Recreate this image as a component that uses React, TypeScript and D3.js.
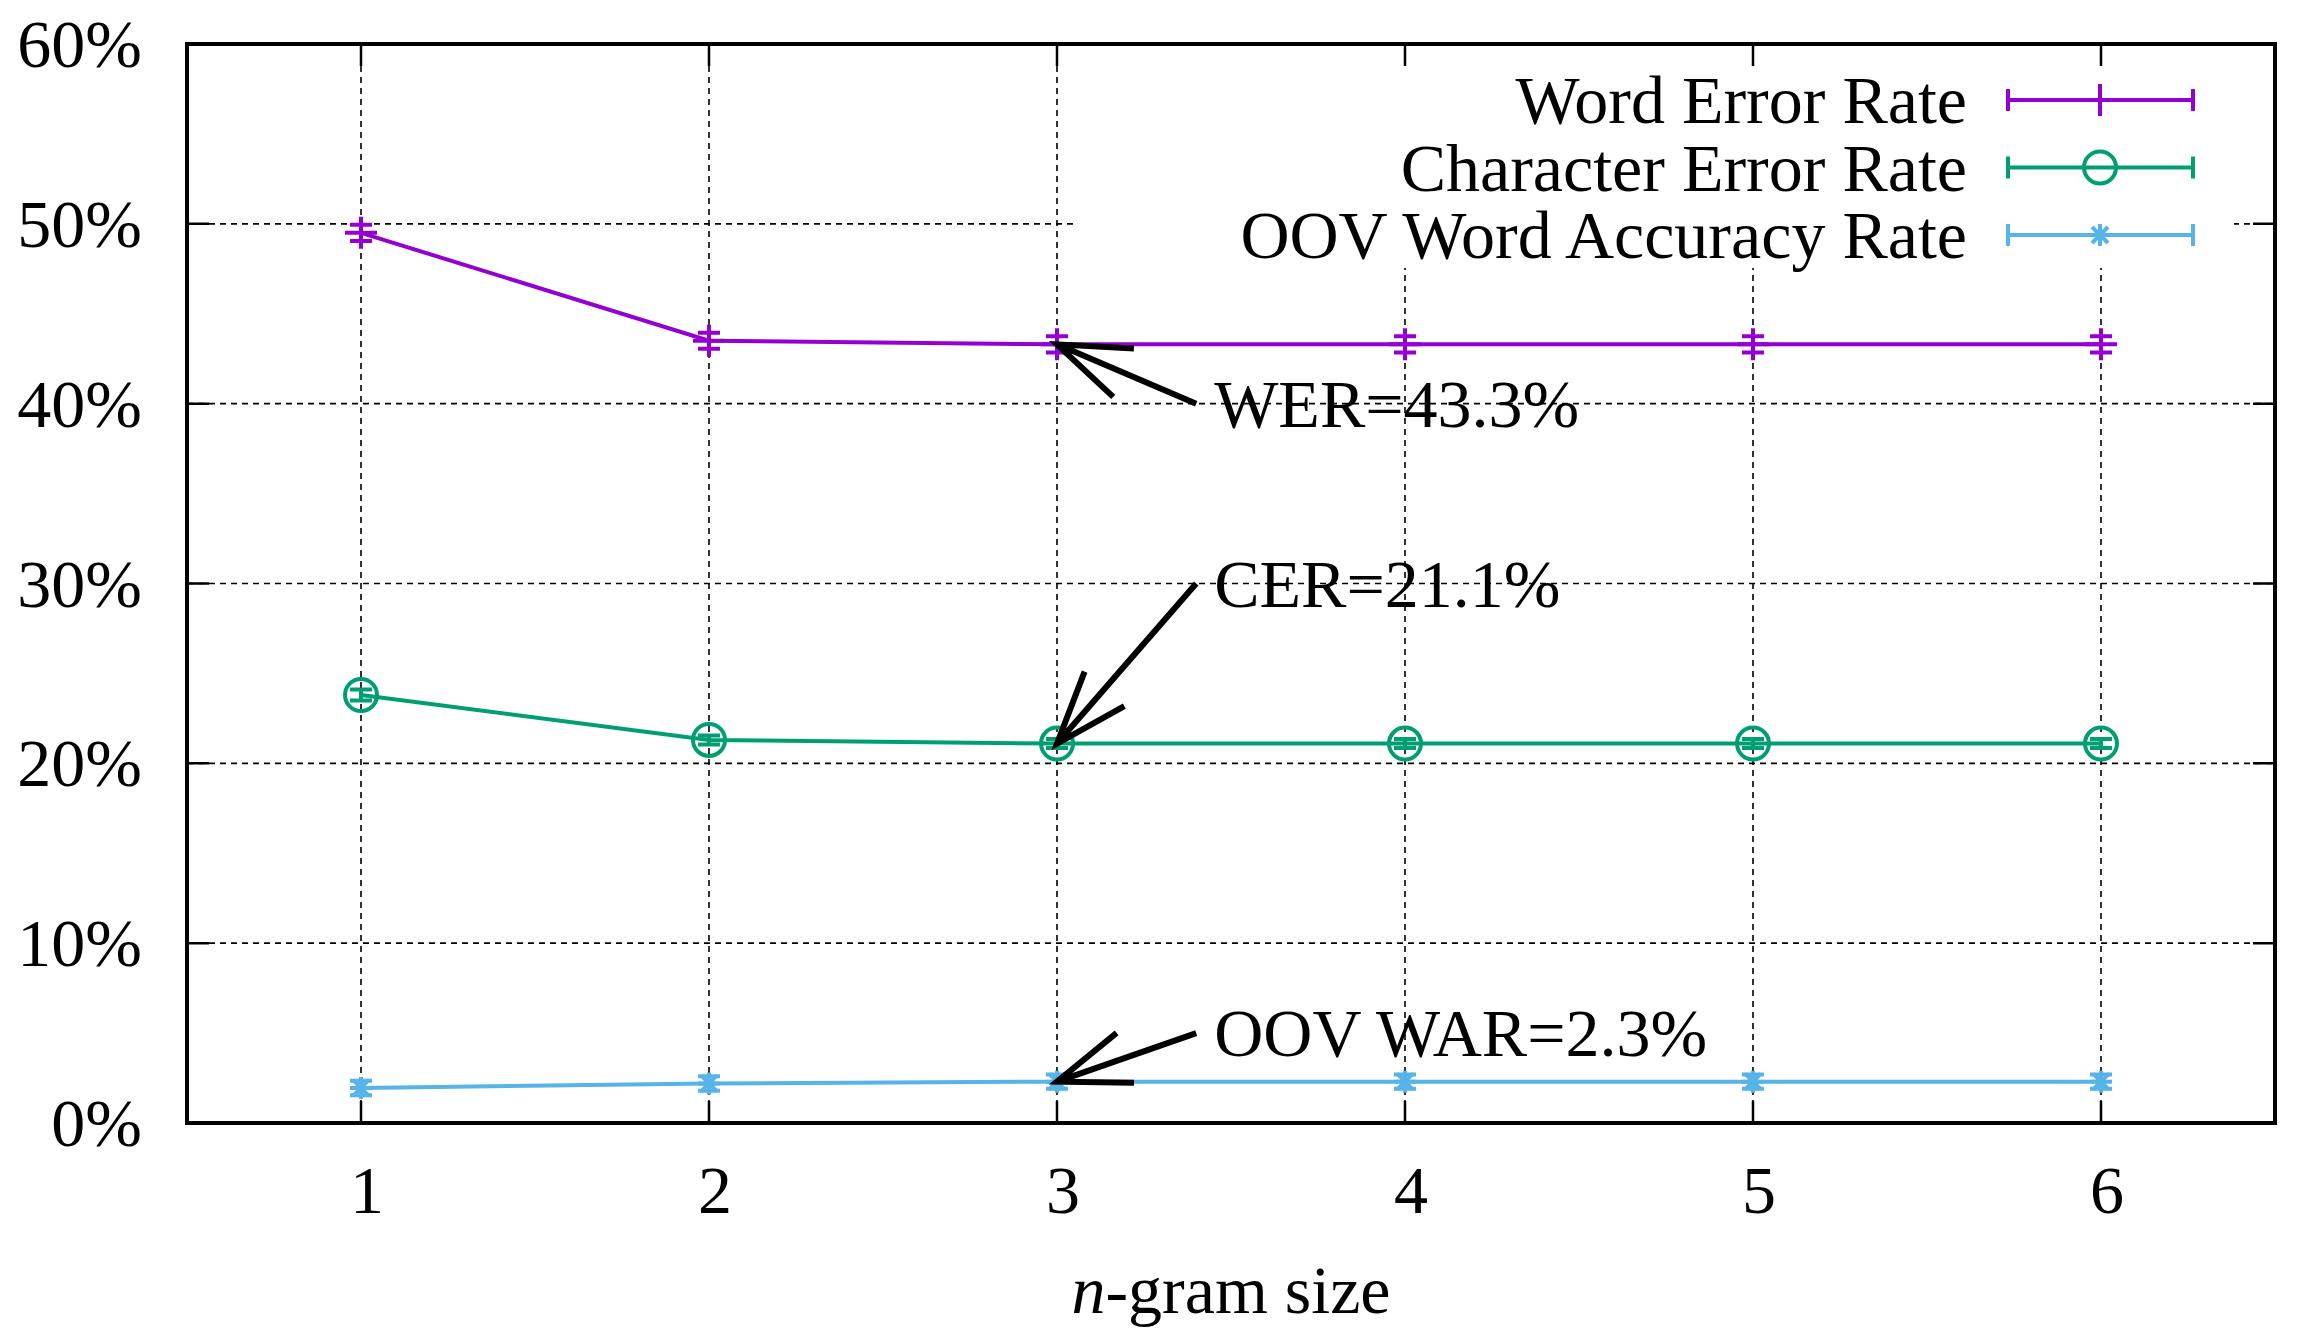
import { useEffect, useRef } from "react";
import * as d3 from "d3";

// ── Data ──────────────────────────────────────────────────────────────────────

const NGRAM = [1, 2, 3, 4, 5, 6];
const WER = [49.5, 43.5, 43.3, 43.3, 43.3, 43.3];
const WER_ERR = [0.45, 0.45, 0.45, 0.45, 0.45, 0.45];
const CER = [23.8, 21.3, 21.1, 21.1, 21.1, 21.1];
const CER_ERR = [0.3, 0.25, 0.25, 0.25, 0.25, 0.25];
const OOV = [1.95, 2.2, 2.3, 2.3, 2.3, 2.3];
const OOV_ERR = [0.4, 0.4, 0.4, 0.4, 0.4, 0.4];

const SERIES_NAMES = ["Word Error Rate", "Character Error Rate", "OOV Word Accuracy Rate"];
const Y_TICKS = [0, 10, 20, 30, 40, 50, 60];

const NOTE_TEXT = ["WER=43.3%", "CER=21.1%", "OOV WAR=2.3%"];
const NOTE_AT_X = 3;
const NOTE_AT_Y = [43.3, 21.1, 2.3];
const NOTE_FROM_X = 3.4;
const NOTE_FROM_Y = [40, 30, 5];

// ── Tokens ────────────────────────────────────────────────────────────────────

const PURPLE = "#9400D3";
const GREEN = "#009E73";
const BLUE = "#56B4E9";
const FONT = "'Liberation Serif', 'Times New Roman', serif";
const FS = 68;

type Marker = "plus" | "circle" | "star";

export default function App() {
  const svgRef = useRef<SVGSVGElement>(null);

  useEffect(() => {
    if (!svgRef.current) return;
    const W = 2309, H = 1344;
    const m = { left: 187, right: 2275, top: 44, bottom: 1123 };

    const svg = d3.select(svgRef.current);
    svg.selectAll("*").remove();
    svg.attr("width", W).attr("height", H).attr("viewBox", `0 0 ${W} ${H}`);

    const x = d3.scaleLinear().domain([0.5, 6.5]).range([m.left, m.right]);
    const y = d3.scaleLinear().domain([0, 60]).range([m.bottom, m.top]);

    svg.append("rect").attr("width", W).attr("height", H).attr("fill", "#fff");

    // Grid
    const grid = svg.append("g")
      .attr("stroke", "#000")
      .attr("stroke-width", 1.6)
      .attr("stroke-dasharray", "6,5");
    grid.selectAll(".gx").data(NGRAM).join("line")
      .attr("x1", d => x(d)).attr("x2", d => x(d))
      .attr("y1", m.top).attr("y2", m.bottom);
    grid.selectAll(".gy").data(Y_TICKS.slice(1, -1)).join("line")
      .attr("x1", m.left).attr("x2", m.right)
      .attr("y1", d => y(d)).attr("y2", d => y(d));

    // Legend background hides the grid behind the key
    const keyRight = 1967;
    svg.append("rect")
      .attr("x", 1073).attr("y", m.top + 2)
      .attr("width", 2234 - 1073).attr("height", 268 - m.top - 2)
      .attr("fill", "#fff");

    const series = [
      { name: SERIES_NAMES[0], values: WER, err: WER_ERR, color: PURPLE, marker: "plus" as Marker },
      { name: SERIES_NAMES[1], values: CER, err: CER_ERR, color: GREEN, marker: "circle" as Marker },
      { name: SERIES_NAMES[2], values: OOV, err: OOV_ERR, color: BLUE, marker: "star" as Marker },
    ];

    const drawMarker = (g: d3.Selection<SVGGElement, unknown, null, undefined>,
      kind: Marker, cx: number, cy: number, color: string) => {
      if (kind === "plus") {
        g.append("path")
          .attr("d", `M${cx - 16},${cy}H${cx + 16}M${cx},${cy - 16}V${cy + 16}`)
          .attr("stroke", color).attr("stroke-width", 4).attr("fill", "none");
      } else if (kind === "circle") {
        g.append("circle").attr("cx", cx).attr("cy", cy).attr("r", 16)
          .attr("stroke", color).attr("stroke-width", 4).attr("fill", "none");
      } else {
        const r = 11, d = 8;
        g.append("path")
          .attr("d", `M${cx - r},${cy}H${cx + r}M${cx},${cy - r}V${cy + r}` +
            `M${cx - d},${cy - d}L${cx + d},${cy + d}M${cx - d},${cy + d}L${cx + d},${cy - d}`)
          .attr("stroke", color).attr("stroke-width", 4).attr("fill", "none");
      }
    };

    const line = d3.line<number>().x((_, i) => x(NGRAM[i])).y(d => y(d));

    series.forEach(s => {
      const g = svg.append("g");
      g.append("path")
        .attr("d", line(s.values))
        .attr("fill", "none")
        .attr("stroke", s.color)
        .attr("stroke-width", 4);

      s.values.forEach((v, i) => {
        const cx = x(NGRAM[i]);
        const lo = y(v - s.err[i]), hi = y(v + s.err[i]);
        g.append("path")
          .attr("d", `M${cx},${lo}V${hi}M${cx - 11},${lo}H${cx + 11}M${cx - 11},${hi}H${cx + 11}`)
          .attr("stroke", s.color).attr("stroke-width", 4).attr("fill", "none");
        drawMarker(g, s.marker, cx, y(v), s.color);
      });
    });

    // Legend
    series.forEach((s, i) => {
      const base = 123 + i * 67.5;
      const ly = base - 23;
      const g = svg.append("g");
      g.append("text")
        .attr("x", keyRight).attr("y", base)
        .attr("text-anchor", "end")
        .attr("font-family", FONT).attr("font-size", FS)
        .attr("fill", "#000")
        .text(s.name);
      g.append("path")
        .attr("d", `M2008,${ly}H2193M2008,${ly - 11}V${ly + 11}M2193,${ly - 11}V${ly + 11}`)
        .attr("stroke", s.color).attr("stroke-width", 4).attr("fill", "none");
      drawMarker(g, s.marker, 2100, ly, s.color);
    });

    // Annotations
    const notes = svg.append("g");
    NOTE_TEXT.forEach((t, i) => {
      const x0 = x(NOTE_FROM_X), y0 = y(NOTE_FROM_Y[i]);
      const x1 = x(NOTE_AT_X), y1 = y(NOTE_AT_Y[i]);
      const ang = Math.atan2(y0 - y1, x0 - x1);
      const len = 77, spread = (20 * Math.PI) / 180;
      const h1 = [x1 + len * Math.cos(ang - spread), y1 + len * Math.sin(ang - spread)];
      const h2 = [x1 + len * Math.cos(ang + spread), y1 + len * Math.sin(ang + spread)];
      notes.append("path")
        .attr("d", `M${x0},${y0}L${x1},${y1}M${h1[0]},${h1[1]}L${x1},${y1}L${h2[0]},${h2[1]}`)
        .attr("stroke", "#000").attr("stroke-width", 6).attr("fill", "none");
      notes.append("text")
        .attr("x", x0 + 18).attr("y", y0 + 23)
        .attr("font-family", FONT).attr("font-size", FS)
        .attr("fill", "#000")
        .text(t);
    });

    // Frame and mirrored ticks
    const axes = svg.append("g").attr("stroke", "#000").attr("fill", "none");
    axes.append("rect")
      .attr("x", m.left).attr("y", m.top)
      .attr("width", m.right - m.left).attr("height", m.bottom - m.top)
      .attr("stroke-width", 4);
    const TL = 22;
    NGRAM.forEach(d => {
      axes.append("path")
        .attr("d", `M${x(d)},${m.bottom}V${m.bottom - TL}M${x(d)},${m.top}V${m.top + TL}`)
        .attr("stroke-width", 2.5);
    });
    Y_TICKS.slice(1, -1).forEach(d => {
      axes.append("path")
        .attr("d", `M${m.left},${y(d)}H${m.left + TL}M${m.right},${y(d)}H${m.right - TL}`)
        .attr("stroke-width", 2.5);
    });

    // Tick labels
    svg.append("g").selectAll("text").data(Y_TICKS).join("text")
      .attr("x", 142).attr("y", d => y(d) + 23)
      .attr("text-anchor", "end")
      .attr("font-family", FONT).attr("font-size", FS)
      .text(d => `${d}%`);

    svg.append("g").selectAll("text").data(NGRAM).join("text")
      .attr("x", d => x(d) + 6).attr("y", 1213)
      .attr("text-anchor", "middle")
      .attr("font-family", FONT).attr("font-size", FS)
      .text(d => d);

    // Axis title
    const title = svg.append("text")
      .attr("x", (m.left + m.right) / 2).attr("y", 1313)
      .attr("text-anchor", "middle")
      .attr("font-family", FONT).attr("font-size", FS);
    title.append("tspan").attr("font-style", "italic").text("n");
    title.append("tspan").text("-gram size");
  }, []);

  return (
    <div style={{ position: "absolute", left: 0, top: 0 }}>
      <svg ref={svgRef} style={{ display: "block" }} />
    </div>
  );
}
